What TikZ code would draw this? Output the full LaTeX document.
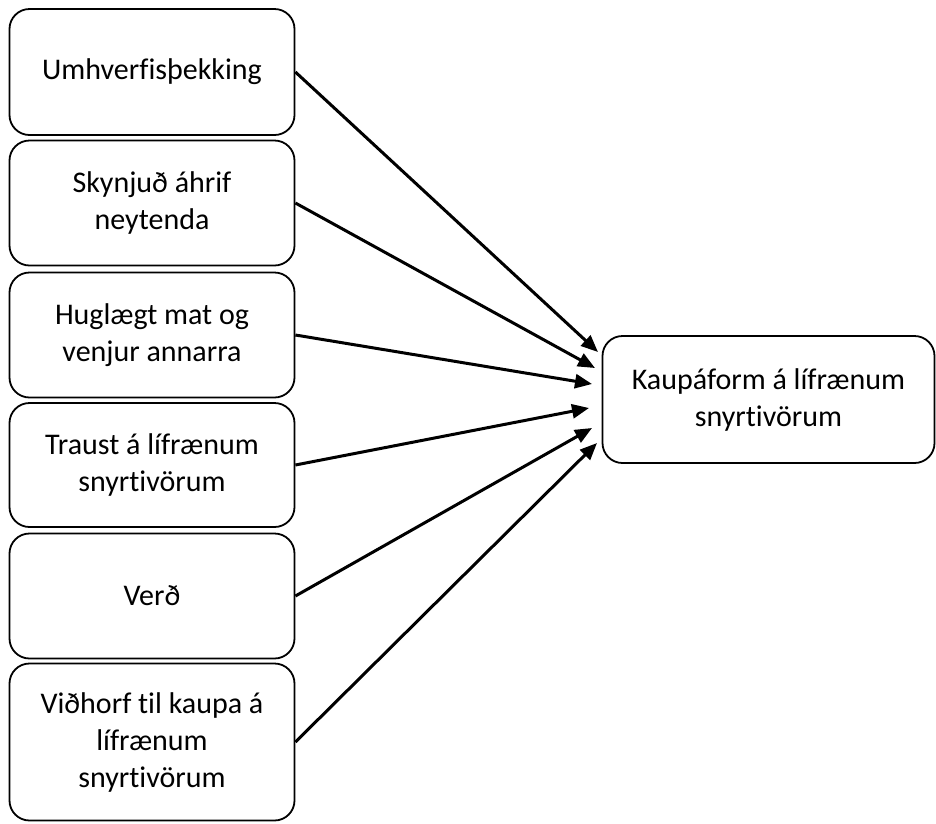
\documentclass[tikz,border=0pt]{standalone}
\usepackage{fontspec}
\setmainfont[Ligatures=NoCommon]{Carlito}
\usetikzlibrary{arrows.meta}
\begin{document}
\begin{tikzpicture}[x=1pt,y=-1pt,
  lbox/.style={draw, line width=1.8pt, rounded corners=20pt, align=center,
    minimum width=285pt, font=\fontsize{30}{37}\selectfont, inner sep=0pt},
  conn/.style={line width=3pt, -{Triangle[length=17pt,width=14pt]}}]
\useasboundingbox (0,0) rectangle (936,823);
\node[lbox, minimum height=126pt] (b1) at (152,72) {Umhverfisþekking};
\node[lbox, minimum height=125pt] (b2) at (152,203) {Skynjuð áhrif\\neytenda};
\node[lbox, minimum height=125pt] (b3) at (152,335) {Huglægt mat og\\venjur annarra};
\node[lbox, minimum height=124pt] (b4) at (152,465) {Traust á lífrænum\\snyrtivörum};
\node[lbox, minimum height=125pt] (b5) at (152,596) {Verð};
\node[lbox, minimum height=157pt] (b6) at (152,742) {Viðhorf til kaupa á\\lífrænum\\snyrtivörum};
\node[lbox, minimum width=332pt, minimum height=127pt] (t) at (768.5,399.5) {Kaupáform á lífrænum\\snyrtivörum};
\coordinate (e1) at (598,352);
\coordinate (e2) at (595,368);
\coordinate (e3) at (592,384);
\coordinate (e4) at (589,408);
\coordinate (e5) at (592,428);
\coordinate (e6) at (597,443);
\draw[conn] (b1.east) -- (e1);
\draw[conn] (b2.east) -- (e2);
\draw[conn] (b3.east) -- (e3);
\draw[conn] (b4.east) -- (e4);
\draw[conn] (b5.east) -- (e5);
\draw[conn] (b6.east) -- (e6);
\end{tikzpicture}
\end{document}
